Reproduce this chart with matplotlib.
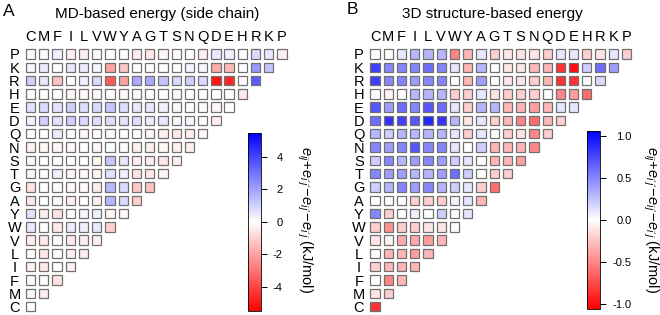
import matplotlib
matplotlib.use("Agg")
import matplotlib.pyplot as plt
from matplotlib.patches import Rectangle
from matplotlib.colors import LinearSegmentedColormap, Normalize
import matplotlib.colorbar as mcolorbar

plt.rcParams['font.family'] = ['Liberation Sans', 'DejaVu Sans']
plt.rcParams['mathtext.fontset'] = 'custom'
plt.rcParams['mathtext.rm'] = 'Liberation Sans'
plt.rcParams['mathtext.it'] = 'Liberation Sans:italic'
plt.rcParams['axes.unicode_minus'] = False

col_labels = ["C", "M", "F", "I", "L", "V", "W", "Y", "A", "G",
              "T", "S", "N", "Q", "D", "E", "H", "R", "K", "P"]
row_labels = ["P", "K", "R", "H", "E", "D", "Q", "N", "S", "T",
              "G", "A", "Y", "W", "V", "L", "I", "F", "M", "C"]

# Panel A: MD-based energy (side chain), kJ/mol; row i has 20-i cells (C..)
md_P = [0.1, 0.1, 0.3, -0.3, -0.3, 0.1, 0.0, 0.0, -0.4, -0.5, -0.2, 0.0, 0.0, -0.3, 0.5, 0.3, 0.0, 0.8, 0.5, -0.3]
md_K = [0.2, 0.4, 0.0, 0.5, 0.4, 0.2, -2.0, -1.2, 0.0, 0.0, 0.1, 0.0, 0.2, 0.2, -1.8, -1.5, 0.0, 2.2, 1.2]
md_R = [1.0, 0.5, -1.3, 0.0, 0.3, 0.8, -3.5, -2.0, 1.8, 1.8, 1.2, 0.8, 1.0, 0.8, -5.0, -4.6, 0.0, 3.5]
md_H = [0.0, 0.0, 0.0, -0.2, -0.2, 0.1, 0.0, -0.2, 0.1, 0.0, 0.0, 0.1, 0.0, 0.0, 0.0, 0.0, -0.5]
md_E = [0.6, 0.8, 0.6, 1.0, 0.7, 0.8, 1.2, 0.7, 0.5, 0.5, 0.3, 0.1, 0.0, 0.1, -0.2, 0.0]
md_D = [0.3, 1.0, 0.6, 1.0, 0.8, 0.7, 0.7, 0.6, 0.7, 0.4, 0.5, 0.2, 0.2, 0.0, -0.4]
md_Q = [0.0, 0.0, 0.4, 0.0, -0.2, 0.0, -0.2, 0.0, 0.0, -0.2, -0.3, -0.5, -0.3, -0.2]
md_N = [-0.3, -0.2, -0.2, -0.2, 0.0, -0.2, 0.0, 0.1, -0.3, -0.3, -0.2, -0.3, -0.3]
md_S = [-0.2, 0.0, 0.0, 0.0, 0.0, -0.2, 1.2, 0.5, -0.4, -0.4, -0.5, -0.3]
md_T = [-0.2, 0.0, 0.3, -0.2, -0.2, -0.2, 0.6, 0.3, -0.6, -0.5, -0.2]
md_G = [-0.6, 0.0, 0.1, -0.2, -0.1, -0.4, 1.5, 0.8, -1.2, -1.3]
md_A = [-0.5, 0.0, 0.1, -0.3, 0.0, -0.4, 1.6, 0.8, -1.0]
md_Y = [0.6, -0.3, -0.6, 0.0, 0.2, 0.3, -0.2, -0.2]
md_W = [0.5, 0.0, -0.5, 0.4, 0.3, 0.5, -1.0]
md_V = [-0.4, -0.5, 0.1, -0.5, -0.4, -0.3]
md_L = [0.0, -0.5, 0.1, -0.3, -0.4]
md_I = [-0.3, -0.5, 0.0, -0.3]
md_F = [0.1, 0.1, -0.6]
md_M = [-0.2, -0.4]
md_C = [0.0]

# Panel B: 3D structure-based energy
st_P = [0.0, 0.0, 0.1, 0.3, 0.3, 0.3, -0.5, -0.3, 0.1, -0.2, -0.1, -0.1, -0.1, -0.2, 0.1, 0.1, -0.2, -0.1, 0.1, -0.2]
st_K = [0.8, 0.5, 0.5, 0.5, 0.6, 0.5, 0.1, -0.3, 0.3, 0.0, -0.1, -0.1, -0.3, -0.3, -0.85, -1.0, 0.2, 0.6, 0.4]
st_R = [0.8, 0.5, 0.5, 0.4, 0.5, 0.5, 0.0, -0.3, 0.4, 0.0, -0.1, -0.1, -0.2, -0.3, -0.85, -0.85, 0.0, 0.15]
st_H = [0.0, -0.05, 0.0, 0.3, 0.3, 0.3, -0.2, -0.2, 0.1, -0.1, -0.2, -0.2, -0.2, 0.0, -0.5, -0.4, -0.6]
st_E = [0.7, 0.4, 0.6, 0.5, 0.7, 0.6, 0.1, -0.2, 0.3, 0.3, -0.3, -0.3, -0.4, -0.3, 0.1, 0.1]
st_D = [0.6, 0.85, 0.8, 0.7, 0.9, 0.85, 0.3, -0.1, 0.1, -0.2, -0.3, -0.5, -0.6, -0.3, -0.2]
st_Q = [0.3, 0.2, 0.3, 0.3, 0.3, 0.3, 0.1, -0.2, 0.1, 0.0, -0.2, -0.1, -0.5, -0.2]
st_N = [0.5, 0.4, 0.5, 0.7, 0.5, 0.5, 0.1, 0.0, 0.2, -0.3, -0.3, -0.3, -0.5]
st_S = [0.2, 0.5, 0.3, 0.4, 0.5, 0.4, 0.2, 0.1, 0.0, -0.3, -0.3, -0.4]
st_T = [0.5, 0.4, 0.4, 0.3, 0.3, 0.4, 0.6, 0.2, 0.0, -0.2, -0.2]
st_G = [0.2, 0.3, 0.5, 0.4, 0.5, 0.3, 0.2, 0.1, -0.2, -0.6]
st_A = [0.0, 0.0, 0.0, -0.2, -0.2, -0.2, 0.05, 0.1, -0.3]
st_Y = [0.5, -0.2, 0.0, 0.05, 0.0, 0.2, 0.0, 0.1]
st_W = [-0.2, -0.45, -0.2, -0.2, -0.1, -0.1, 0.0]
st_V = [-0.1, -0.05, -0.35, -0.35, -0.4, -0.3]
st_L = [0.0, -0.3, -0.3, -0.4, -0.3]
st_I = [-0.2, -0.3, -0.3, -0.3]
st_F = [0.0, -0.5, -0.3]
st_M = [-0.1, -0.2]
st_C = [-0.85]

md_rows = [md_P, md_K, md_R, md_H, md_E, md_D, md_Q, md_N, md_S, md_T,
           md_G, md_A, md_Y, md_W, md_V, md_L, md_I, md_F, md_M, md_C]
st_rows = [st_P, st_K, st_R, st_H, st_E, st_D, st_Q, st_N, st_S, st_T,
           st_G, st_A, st_Y, st_W, st_V, st_L, st_I, st_F, st_M, st_C]

md_ticks = [-4, -2, 0, 2, 4]
st_ticks = [-1.0, -0.5, 0.0, 0.5, 1.0]
md_lim = 5.46
st_lim = 1.06

cmap = LinearSegmentedColormap.from_list("rwb", ["#FF0000", "#FFFFFF", "#0000FF"])

W, H = 660, 315
fig = plt.figure(figsize=(W / 100, H / 100), dpi=100)


def fx(px):
    return px / W


def fy(py):
    return 1 - py / H


def draw_panel(left_px, rows, lim, cb_left_px, cb_top, cb_bot, ticks, tickfmt,
               lab_pad, label_x):
    ax = fig.add_axes([fx(left_px), fy(313.3), fx(264.8), 266 / H])
    norm = Normalize(-lim, lim)
    s = 0.7
    for i, vals in enumerate(rows):
        for j, v in enumerate(vals):
            ax.add_patch(Rectangle((j - s / 2, i - s / 2), s, s,
                                   facecolor=cmap(norm(v)), edgecolor="#707070",
                                   linewidth=0.9))
    ax.set_xlim(-0.5, 19.5)
    ax.set_ylim(19.5, -0.5)
    for sp in ax.spines.values():
        sp.set_visible(False)
    ax.xaxis.tick_top()
    ax.set_xticks(range(len(col_labels)))
    ax.set_xticklabels(col_labels, fontsize=10.5)
    ax.set_yticks(range(len(row_labels)))
    ax.set_yticklabels(row_labels, fontsize=10.5, ha="center")
    ax.tick_params(axis="x", length=0, pad=2.5)
    ax.tick_params(axis="y", length=0, pad=6.8)

    cax = fig.add_axes([fx(cb_left_px), fy(cb_bot), fx(13), (cb_bot - cb_top) / H])
    cb = mcolorbar.ColorbarBase(cax, cmap=cmap, norm=norm, orientation="vertical")
    cb.set_ticks(ticks)
    cb.set_ticklabels([tickfmt(t) for t in ticks])
    cb.outline.set_linewidth(0.6)
    cax.tick_params(axis="y", length=4, width=0.7, labelsize=8, pad=lab_pad)
    for t in cax.get_yticklabels():
        t.set_horizontalalignment("right")
    fig.text(fx(label_x), fy(220), r"$e_{ij}\!+\!e_{i'j'}\!-\!e_{ij'}\!-\!e_{i'j}$ (kJ/mol)",
             rotation=270, ha="center", va="center", fontsize=10.5)
    return ax


draw_panel(23.9, md_rows, md_lim, 248, 133, 310.7, md_ticks,
           lambda t: "%d" % t, 11.5, 305)
draw_panel(368.4, st_rows, st_lim, 586.5, 131, 309, st_ticks,
           lambda t: "%.1f" % t, 19.0, 651)

fig.text(fx(157), fy(14), "MD-based energy (side chain)", ha="center", va="center", fontsize=11)
fig.text(fx(492), fy(14), "3D structure-based energy", ha="center", va="center", fontsize=11)
fig.text(fx(9), fy(11), "A", ha="center", va="center", fontsize=12.5)
fig.text(fx(352), fy(10), "B", ha="center", va="center", fontsize=12.5)

fig.savefig("out.png", dpi=100)
